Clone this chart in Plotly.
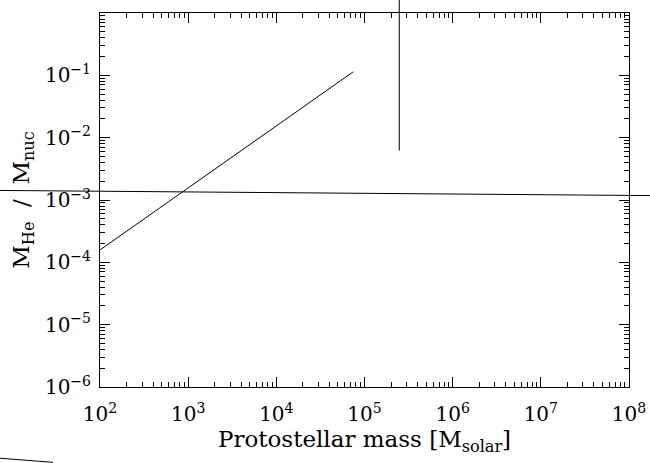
import plotly.graph_objects as go

# ---- data ----
diag_x = [1.0e2, 7.46e4]
diag_y = [1.58e-4, 0.114]

vert_x = [2.48e5, 2.48e5]
vert_y = [6.2e-3, 3.0]

horiz_x = [5.0, 3.0e8]
horiz_y = [1.43e-3, 1.17e-3]

frag_x = [5.0, 29.3]
frag_y = [7.5e-8, 6.19e-8]

x_tick_exp = [2, 3, 4, 5, 6, 7, 8]
y_tick_exp = [-6, -5, -4, -3, -2, -1, 0]

# ---- geometry ----
W, H = 650, 463
L, R, T, B = 100, 629, 13, 387
x_dec = (R - L) / 6.0
y_dec = (B - T) / 6.0
x_full = [2 - L / x_dec, 8 + (W - R) / x_dec]
y_full = [-6 - (H - B) / y_dec, 0 + T / y_dec]

FONT = "DejaVu Serif"

def sup(e):
    s = str(e).replace("-", "\u2212")
    return "10<sup>" + s + "</sup>"

def minors(lo, hi):
    out = []
    for n in range(lo, hi):
        for k in range(2, 10):
            out.append(k * 10.0 ** n)
    return out

fig = go.Figure()
line = dict(color="black", width=1)
fig.add_trace(go.Scatter(x=diag_x, y=diag_y, mode="lines", line=line,
                         xaxis="x", yaxis="y", showlegend=False, hoverinfo="skip"))
# invisible anchor trace so the top/right tick axes get drawn
fig.add_trace(go.Scatter(x=[diag_x[0]], y=[diag_y[0]], mode="markers",
                         marker=dict(opacity=0), xaxis="x3", yaxis="y3",
                         showlegend=False, hoverinfo="skip"))
for xs, ys in [(vert_x, vert_y), (horiz_x, horiz_y), (frag_x, frag_y)]:
    fig.add_trace(go.Scatter(x=xs, y=ys, mode="lines", line=line,
                             xaxis="x2", yaxis="y2", showlegend=False, hoverinfo="skip"))

def ax_ticks(exps, lo, hi):
    return dict(type="log", ticks="inside", ticklen=10, tickcolor="black", tickwidth=1,
                showgrid=False, zeroline=False, automargin=False,
                tickfont=dict(family=FONT, size=20, color="black"),
                tickmode="array", tickvals=[10.0 ** e for e in exps],
                minor=dict(tickmode="array", tickvals=minors(lo, hi), ticks="inside",
                           ticklen=5, tickcolor="black", tickwidth=1, showgrid=False))

fig.update_layout(
    template="none",
    width=W, height=H,
    margin=dict(l=0, r=0, t=0, b=0, pad=0),
    paper_bgcolor="white", plot_bgcolor="rgba(0,0,0,0)",
    font=dict(family=FONT, color="black"),
    xaxis=dict(
        ax_ticks(x_tick_exp, 2, 8),
        showline=True, linecolor="black", linewidth=1, mirror=True,
        domain=[L / W, R / W], range=[2, 8], anchor="y",
        ticktext=[sup(e) for e in x_tick_exp], ticklabelstandoff=9,
        title=dict(text="Protostellar mass [M<sub>solar</sub>]",
                   font=dict(family=FONT, size=23, color="black"), standoff=1),
    ),
    yaxis=dict(
        ax_ticks(y_tick_exp, -6, 0),
        showline=True, linecolor="black", linewidth=1, mirror=True,
        domain=[(H - B) / H, (H - T) / H], range=[-6, 0], anchor="x",
        ticktext=[sup(e) for e in y_tick_exp], ticklabelstandoff=4,
        title=dict(text="M<sub>He</sub>  /  M<sub>nuc</sub>",
                   font=dict(family=FONT, size=23, color="black"), standoff=8),
    ),
    xaxis3=dict(ax_ticks(x_tick_exp, 2, 8), overlaying="x", side="top", anchor="y3",
                range=[2, 8], showticklabels=False, showline=False),
    yaxis3=dict(ax_ticks(y_tick_exp, -6, 0), overlaying="y", side="right", anchor="x3",
                range=[-6, 0], showticklabels=False, showline=False),
    xaxis2=dict(type="log", domain=[0, 1], range=x_full, anchor="y2",
                visible=False, showgrid=False, zeroline=False, automargin=False),
    yaxis2=dict(type="log", domain=[0, 1], range=y_full, anchor="x2",
                visible=False, showgrid=False, zeroline=False, automargin=False),
)

fig.write_html("out.html", config={"displayModeBar": False},
               post_script="document.body.style.margin='0px';document.body.style.overflow='hidden';")
